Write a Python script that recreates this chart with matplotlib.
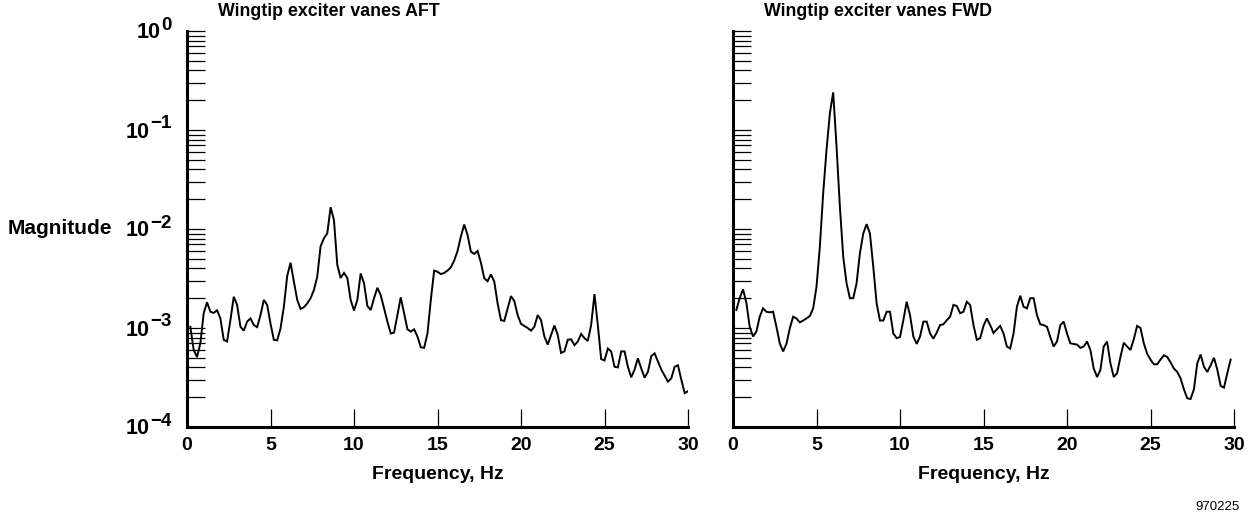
import numpy as np
import matplotlib
matplotlib.use("Agg")
import matplotlib.pyplot as plt
from matplotlib.ticker import LogLocator, NullFormatter, FixedLocator
from matplotlib.transforms import offset_copy, blended_transform_factory

plt.rcParams['font.family'] = ['Liberation Sans', 'DejaVu Sans']
plt.rcParams['font.weight'] = 'bold'

# Frequency response magnitude, vanes AFT (0.2 Hz spacing)
freq_aft = np.round(np.arange(1, 151) * 0.2, 1)
mag_aft = [
    1.03e-3, 6.0e-4, 5.1e-4, 7.0e-4, 1.41e-3, 1.82e-3, 1.46e-3, 1.42e-3, 1.51e-3, 1.25e-3,
    7.6e-4, 7.3e-4, 1.2e-3, 2.07e-3, 1.71e-3, 1.03e-3, 9.4e-4, 1.16e-3, 1.25e-3, 1.07e-3,
    1.02e-3, 1.35e-3, 1.92e-3, 1.71e-3, 1.11e-3, 7.6e-4, 7.5e-4, 9.9e-4, 1.64e-3, 3.35e-3,
    4.57e-3, 2.94e-3, 1.92e-3, 1.56e-3, 1.62e-3, 1.77e-3, 2.0e-3, 2.42e-3, 3.3e-3, 6.7e-3,
    8.05e-3, 9.05e-3, 1.66e-2, 1.23e-2, 4.33e-3, 3.2e-3, 3.6e-3, 3.2e-3, 1.92e-3, 1.5e-3,
    1.92e-3, 3.56e-3, 2.83e-3, 1.67e-3, 1.52e-3, 2.0e-3, 2.55e-3, 2.15e-3, 1.58e-3, 1.16e-3,
    8.8e-4, 9.0e-4, 1.35e-3, 2.04e-3, 1.4e-3, 9.7e-4, 9.2e-4, 9.7e-4, 8.2e-4, 6.4e-4,
    6.3e-4, 8.8e-4, 1.92e-3, 3.8e-3, 3.7e-3, 3.5e-3, 3.6e-3, 3.8e-3, 4.1e-3, 4.8e-3,
    6.0e-3, 8.4e-3, 1.11e-2, 8.7e-3, 5.9e-3, 5.6e-3, 6.0e-3, 4.57e-3, 3.18e-3, 2.97e-3,
    3.48e-3, 2.94e-3, 1.77e-3, 1.2e-3, 1.18e-3, 1.58e-3, 2.1e-3, 1.87e-3, 1.35e-3, 1.1e-3,
    1.05e-3, 1.0e-3, 9.4e-4, 1.03e-3, 1.35e-3, 1.2e-3, 8.2e-4, 6.8e-4, 8.5e-4, 1.06e-3,
    8.5e-4, 5.6e-4, 5.8e-4, 7.6e-4, 7.7e-4, 6.7e-4, 7.3e-4, 8.7e-4, 7.9e-4, 7.4e-4,
    1.07e-3, 2.2e-3, 1.07e-3, 4.86e-4, 4.7e-4, 6.2e-4, 5.8e-4, 4.06e-4, 4.0e-4, 5.8e-4,
    5.8e-4, 4.06e-4, 3.18e-4, 3.8e-4, 4.94e-4, 3.9e-4, 3.15e-4, 3.6e-4, 5.2e-4, 5.55e-4,
    4.6e-4, 3.8e-4, 3.3e-4, 2.87e-4, 3.1e-4, 4.06e-4, 4.2e-4, 3.0e-4, 2.2e-4, 2.3e-4,
]

# Frequency response magnitude, vanes FWD (0.2 Hz spacing)
freq_fwd = np.round(np.arange(1, 150) * 0.2, 1)
mag_fwd = [
    1.52e-3, 2.0e-3, 2.46e-3, 1.8e-3, 1.03e-3, 8.2e-4, 9.2e-4, 1.3e-3, 1.58e-3, 1.46e-3,
    1.44e-3, 1.46e-3, 1.03e-3, 7.0e-4, 5.8e-4, 6.9e-4, 9.9e-4, 1.3e-3, 1.25e-3, 1.14e-3,
    1.19e-3, 1.25e-3, 1.32e-3, 1.58e-3, 2.61e-3, 6.6e-3, 2.3e-2, 6.3e-2, 1.47e-1, 2.4e-1,
    6.8e-2, 1.68e-2, 5.25e-3, 2.83e-3, 2.0e-3, 2.0e-3, 2.83e-3, 5.7e-3, 9.0e-3, 1.12e-2,
    9.0e-3, 4.16e-3, 1.77e-3, 1.19e-3, 1.19e-3, 1.46e-3, 1.46e-3, 8.8e-4, 7.9e-4, 8.1e-4,
    1.2e-3, 1.84e-3, 1.35e-3, 8.2e-4, 6.9e-4, 8.2e-4, 1.16e-3, 1.16e-3, 8.8e-4, 7.8e-4,
    9.0e-4, 1.07e-3, 1.09e-3, 1.2e-3, 1.3e-3, 1.71e-3, 1.67e-3, 1.41e-3, 1.46e-3, 1.84e-3,
    1.71e-3, 1.07e-3, 7.6e-4, 7.9e-4, 1.05e-3, 1.25e-3, 1.07e-3, 8.9e-4, 9.7e-4, 1.05e-3,
    8.8e-4, 6.5e-4, 6.2e-4, 8.8e-4, 1.64e-3, 2.12e-3, 1.64e-3, 1.58e-3, 2.0e-3, 2.0e-3,
    1.35e-3, 1.09e-3, 1.07e-3, 1.03e-3, 8.1e-4, 6.5e-4, 7.3e-4, 1.07e-3, 1.16e-3, 8.8e-4,
    7.0e-4, 6.9e-4, 6.8e-4, 6.3e-4, 6.5e-4, 7.3e-4, 6.0e-4, 3.9e-4, 3.2e-4, 3.76e-4,
    6.5e-4, 7.3e-4, 4.4e-4, 3.2e-4, 3.5e-4, 5.1e-4, 7.1e-4, 6.5e-4, 6.0e-4, 7.7e-4,
    1.05e-3, 1.0e-3, 7.0e-4, 5.5e-4, 4.8e-4, 4.3e-4, 4.3e-4, 4.8e-4, 5.3e-4, 5.1e-4,
    4.5e-4, 3.9e-4, 3.6e-4, 3.1e-4, 2.4e-4, 1.95e-4, 1.92e-4, 2.4e-4, 4.4e-4, 5.4e-4,
    4.06e-4, 3.6e-4, 4.2e-4, 5.0e-4, 3.8e-4, 2.6e-4, 2.5e-4, 3.5e-4, 4.8e-4,
]

titles = ["Wingtip exciter vanes AFT", "Wingtip exciter vanes FWD"]
x_ticks = [0, 5, 10, 15, 20, 25, 30]
y_decades = [1e-4, 1e-3, 1e-2, 1e-1, 1e0]
y_exponents = ["\u22124", "\u22123", "\u22122", "\u22121", "0"]

W, H = 1255, 520
fig = plt.figure(figsize=(W / 100, H / 100), dpi=100)

ax_left_px = [187, 733]
ax_w_px = 501
ax_top_px, ax_bot_px = 31, 427

axes = []
series = [(freq_aft, mag_aft), (freq_fwd, mag_fwd)]
for i, (fq, mg) in enumerate(series):
    ax = fig.add_axes([ax_left_px[i] / W, 1 - ax_bot_px / H,
                       ax_w_px / W, (ax_bot_px - ax_top_px) / H])
    axes.append(ax)
    ax.plot(fq, mg, color='black', lw=1.4, solid_joinstyle='miter')
    ax.set_yscale('log')
    ax.set_xlim(0, 30)
    ax.set_ylim(1e-4, 1e0)
    for s in ['top', 'right']:
        ax.spines[s].set_visible(False)
    for s in ['left', 'bottom']:
        ax.spines[s].set_linewidth(2.2)
    ax.xaxis.set_major_locator(FixedLocator(x_ticks))
    ax.set_xticklabels([str(t) for t in x_ticks])
    ax.yaxis.set_major_locator(FixedLocator(y_decades))
    ax.yaxis.set_minor_locator(LogLocator(base=10, subs=np.arange(2, 10), numticks=20))
    ax.yaxis.set_minor_formatter(NullFormatter())
    ax.set_yticklabels([])
    ax.tick_params(axis='both', which='both', direction='in', length=13, width=0.9,
                   color='black')
    ax.tick_params(axis='x', pad=7, labelsize=14)
    for lab in ax.get_xticklabels():
        lab.set_fontweight('bold')
    ax.set_xlabel("Frequency, Hz", fontsize=14, fontweight='bold', labelpad=9)
    fig.text((ax_left_px[i] + 31) / W, 1 - 12 / H, titles[i], fontsize=12.8,
             fontweight='bold', ha='left', va='center')

# Decade labels on the left axis: "10" with a raised exponent
ax0 = axes[0]
ytrans = blended_transform_factory(ax0.transAxes, ax0.transData)
renderer = fig.canvas.get_renderer()
label_right_px = 15  # gap between label end and spine, in pixels
for dec, ex in zip(y_decades, y_exponents):
    sup_tr = offset_copy(ytrans, fig=fig, x=-label_right_px, y=6, units='dots')
    sup = ax0.text(0, dec, ex, transform=sup_tr, fontsize=13.5, fontweight='bold',
                   ha='right', va='center', clip_on=False)
    bb = sup.get_window_extent(renderer=renderer)
    base_tr = offset_copy(ytrans, fig=fig, x=-label_right_px - bb.width - 1, y=-2,
                          units='dots')
    ax0.text(0, dec, "10", transform=base_tr, fontsize=15.5, fontweight='bold',
             ha='right', va='center', clip_on=False)

fig.text(8 / W, 1 - 229 / H, "Magnitude", fontsize=15, fontweight='bold',
         ha='left', va='center')
fig.text(1240 / W, 1 - 507 / H, "970225", fontsize=9.5, fontweight='normal',
         ha='right', va='center')

fig.savefig("out.png", dpi=100)
